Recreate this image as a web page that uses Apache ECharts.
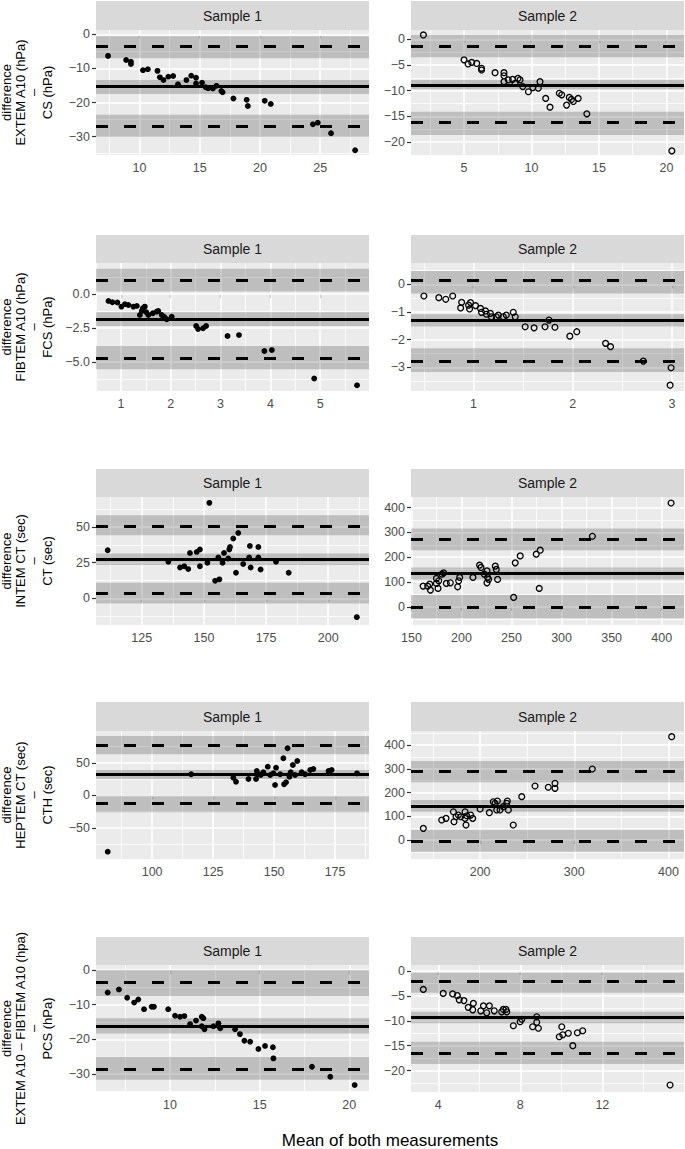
<!DOCTYPE html>
<html><head><meta charset="utf-8">
<script src="https://cdn.jsdelivr.net/npm/echarts@6/dist/echarts.min.js"></script>
<style>html,body{margin:0;padding:0;background:#fff}#c{width:685px;height:1149px}</style>
</head><body><div id="c"></div><script>
// ================= DATA =================
// Row 1: EXTEM A10 - CS
const extemS1Pts = [[7.4,-6.3],[8.9,-7.5],[9.3,-8.0],[9.3,-8.7],[10.3,-10.5],[10.7,-10.2],[11.5,-10.7],[11.7,-12.6],[12.0,-13.4],[12.4,-12.4],[12.8,-12.2],[13.2,-14.6],[13.9,-13.4],[14.3,-12.1],[14.7,-12.7],[14.7,-14.4],[15.2,-14.2],[15.5,-15.5],[15.7,-15.8],[16.1,-15.9],[16.4,-15.1],[16.8,-16.6],[16.9,-17.0],[17.8,-18.8],[18.9,-19.2],[19.0,-21.0],[20.4,-19.5],[20.9,-20.4],[24.4,-26.4],[24.8,-25.9],[25.9,-29.0],[27.9,-34.0]];
const extemS1Stats = [-15.35, -3.6, -27.1];           // bias, upper LoA, lower LoA
const extemS1Bands = [[-0.5,-7.0],[-13.4,-17.5],[-23.6,-30.2]];
const extemS1XTicks = [10,15,20,25];
const extemS1YTicks = [0,-10,-20,-30];

const extemS2Pts = [[1.99,0.84],[5.0,-4.0],[5.3,-4.8],[5.57,-4.5],[5.94,-4.7],[6.3,-5.65],[6.3,-5.97],[7.3,-6.5],[7.96,-6.5],[7.96,-7.1],[7.96,-8.24],[8.28,-7.9],[8.6,-7.8],[8.78,-8.56],[9.0,-7.6],[9.15,-7.9],[9.35,-9.2],[9.77,-10.2],[10.1,-9.4],[10.5,-9.5],[10.63,-8.25],[11.05,-11.5],[11.37,-13.2],[12.06,-10.5],[12.24,-10.8],[12.6,-12.8],[12.8,-11.3],[12.96,-11.7],[13.1,-12.1],[13.46,-11.5],[14.1,-14.5],[20.4,-21.7]];
const extemS2Stats = [-8.9, -1.44, -16.2];
const extemS2Bands = [[0.84,-3.5],[-7.9,-9.7],[-14.1,-18.6]];
const extemS2XTicks = [5,10,15,20];
const extemS2YTicks = [0,-5,-10,-15,-20];

// Row 2: FIBTEM A10 - FCS
const fibtemS1Pts = [[0.75,-0.5],[0.83,-0.6],[0.93,-0.62],[1.01,-0.92],[1.08,-0.74],[1.15,-0.8],[1.25,-0.92],[1.32,-0.87],[1.38,-1.54],[1.42,-1.24],[1.44,-1.04],[1.48,-0.92],[1.51,-1.34],[1.55,-1.54],[1.64,-1.41],[1.72,-1.29],[1.75,-1.24],[1.82,-1.54],[1.87,-1.68],[1.92,-1.85],[2.02,-1.66],[2.51,-2.35],[2.55,-2.57],[2.65,-2.52],[2.71,-2.35],[3.14,-3.09],[3.37,-3.02],[3.88,-4.2],[4.03,-4.13],[4.88,-6.23],[5.74,-6.73]];
const fibtemS1Stats = [-1.86, 1.06, -4.7];
const fibtemS1Bands = [[1.88,0.19],[-1.34,-2.35],[-3.81,-5.54]];
const fibtemS1XTicks = [1,2,3,4,5];
const fibtemS1YTicks = [0,-2.5,-5];

const fibtemS2Pts = [[0.5,-0.42],[0.65,-0.48],[0.72,-0.54],[0.79,-0.42],[0.88,-0.65],[0.87,-0.85],[0.95,-0.75],[0.96,-0.89],[0.97,-0.66],[1.02,-0.77],[1.07,-0.87],[1.08,-1.01],[1.12,-0.96],[1.13,-1.08],[1.17,-1.05],[1.18,-1.17],[1.23,-1.17],[1.25,-1.11],[1.3,-1.17],[1.33,-1.11],[1.4,-1.01],[1.42,-1.17],[1.52,-1.53],[1.61,-1.57],[1.72,-1.53],[1.76,-1.29],[1.82,-1.55],[1.97,-1.87],[2.04,-1.71],[2.33,-2.13],[2.38,-2.25],[2.71,-2.77],[2.99,-3.01],[2.98,-3.64]];
const fibtemS2Stats = [-1.31, 0.13, -2.76];
const fibtemS2Bands = [[0.48,-0.33],[-1.08,-1.53],[-2.31,-3.16]];
const fibtemS2XTicks = [1,2,3];
const fibtemS2YTicks = [0,-1,-2,-3];

// Row 3: INTEM CT - CT
const intemS1Pts = [[111.3,33.7],[135.7,25.6],[140.4,21.6],[142.1,22.5],[143.7,20.5],[144.4,31.8],[147.1,32.5],[148.4,34.2],[148.4,22.5],[151.4,24.9],[152.2,66.8],[154.5,12.3],[156.2,13.3],[155.8,28.6],[157.5,24.9],[158.1,31.8],[159.8,27.9],[160.2,34.2],[160.5,36],[161.8,41.9],[163.8,45.8],[162.9,17.9],[165.8,24],[168.5,36.7],[168.2,28.6],[168.8,21.6],[171.9,28.6],[171.9,36],[172.8,20.2],[179,25.6],[184.1,17.9],[211.5,-13.1]];
const intemS1Stats = [27.4, 50.5, 3.5];
const intemS1Bands = [[58.2,44.2],[31.4,23.3],[10.9,-3.5]];
const intemS1XTicks = [125,150,175,200];
const intemS1YTicks = [0,25,50];

const intemS2Pts = [[161.7,83.3],[166.3,83.3],[169,67.2],[168.3,91.3],[175,94.2],[176.6,74],[175,114.3],[177.3,104.6],[180.6,131.6],[182.2,136.8],[184.9,94.2],[188.9,96.6],[196.2,80.5],[197.2,104.6],[198.2,118.3],[211.5,118.3],[218.1,167.8],[219.5,158.6],[222.8,131.6],[225.5,144.9],[226.1,118.3],[225.5,96.6],[227.1,110.3],[233.8,163.8],[234.8,150.5],[236.1,110.3],[252.1,37.8],[253.7,177.1],[258.7,205.2],[274.7,212.1],[278.7,228.2],[277.7,74],[330.8,284.5],[409.4,418.5]];
const intemS2Stats = [134.4, 272.4, -2.4];
const intemS2Bands = [[315.5,228.2],[158.6,110.3],[47,-46.7]];
const intemS2XTicks = [150,200,250,300,350,400];
const intemS2YTicks = [0,100,200,300,400];

// Row 4: HEPTEM CT - CTH
const heptemS1Pts = [[81.8,-86.4],[116,32.6],[133.3,27.4],[134.4,21.2],[139.5,25.4],[142.6,25.4],[142.9,37.7],[143.6,32.6],[144.5,31.5],[145.6,35.7],[147.4,44.3],[148.4,31.5],[149.7,34.2],[150.4,16.2],[150.8,42.8],[152.5,32.6],[153.8,57.2],[154.1,17.2],[154.9,20.3],[155.5,72.6],[156.3,28.9],[156.8,35.7],[157.7,46.9],[158.6,31.5],[159.5,53.1],[161.3,35.7],[162.7,32.6],[164.8,39.2],[166.1,40.8],[172.3,37.7],[173.6,39.2],[184,34]];
const heptemS1Stats = [32.6, 77.7, -12];
const heptemS1Bands = [[91.5,63.4],[39.2,25.4],[-0.3,-25.8]];
const heptemS1XTicks = [100,125,150,175];
const heptemS1YTicks = [-50,0,50];

const heptemS2Pts = [[139.7,49],[159.2,84.2],[163.8,91.2],[171.6,119],[172.3,77],[174.4,98],[176.9,105],[179.4,98],[184,119],[185,63],[184,91],[185.8,102],[190,105],[192.1,91],[200,130.5],[209.8,115],[214,161],[215.8,154.5],[217.6,126.3],[218.3,164.2],[221.1,126.3],[224.6,140.4],[228.2,154.5],[228.9,164.2],[230,126.3],[235.2,63.2],[244.2,182.5],[258.3,227.4],[272.4,222],[279.5,238.7],[279.5,217.7],[319.1,299],[403.4,435]];
const heptemS2Stats = [143.2, 290.5, -4.2];
const heptemS2Bands = [[332.6,242.9],[168.4,119],[42,-49]];
const heptemS2XTicks = [200,300,400];
const heptemS2YTicks = [0,100,200,300,400];

// Row 5: EXTEM A10 - FIBTEM A10 - PCS
const pcsS1Pts = [[6.52,-6.5],[7.15,-5.6],[7.61,-8.0],[8.0,-9.4],[8.23,-8.5],[8.55,-11.3],[8.98,-10.6],[9.1,-10.6],[9.9,-11.3],[10.28,-13.2],[10.56,-13.5],[10.8,-13.3],[11.12,-15.6],[11.45,-14.6],[11.77,-13.5],[11.86,-13.9],[11.77,-16.2],[11.92,-17.1],[12.42,-16.2],[12.7,-15.4],[12.8,-16.8],[13.63,-17.1],[13.9,-18.5],[14.15,-20.4],[14.47,-20.7],[14.93,-22.8],[15.3,-21.9],[15.74,-22.3],[15.77,-25.5],[17.92,-27.9],[18.94,-30.8],[20.3,-33.2]];
const pcsS1Stats = [-16.2, -3.65, -28.7];
const pcsS1Bands = [[0,-7.5],[-13.9,-18.3],[-25,-31.7]];
const pcsS1XTicks = [10,15,20];
const pcsS1YTicks = [0,-10,-20,-30];

const pcsS2Pts = [[3.27,-3.7],[4.24,-4.5],[4.7,-4.6],[4.93,-4.95],[5.02,-5.8],[5.25,-5.95],[5.46,-7.3],[5.68,-7.8],[5.71,-6.5],[6.07,-8.0],[6.2,-7.0],[6.36,-8.4],[6.49,-7.0],[6.73,-8.0],[7.09,-8.2],[7.17,-7.7],[7.34,-8.2],[7.3,-7.7],[7.66,-11.0],[7.99,-10.2],[8.07,-9.7],[8.6,-11.2],[8.8,-9.2],[8.8,-10.3],[8.88,-11.5],[9.9,-13.2],[10.07,-12.8],[10.02,-11.2],[10.34,-12.5],[10.56,-15],[10.78,-12.4],[11.04,-12.0],[15.3,-22.9]];
const pcsS2Stats = [-9.3, -2.0, -16.5];
const pcsS2Bands = [[-0.34,-4.35],[-8.2,-10.5],[-14.2,-18.7]];
const pcsS2XTicks = [4,8,12];
const pcsS2YTicks = [0,-5,-10,-15,-20];

const stripLabels = ['Sample 1', 'Sample 2'];
const yTitles = [
  'difference\nEXTEM A10 (hPa)\n\u2013\nCS (hPa)',
  'difference\nFIBTEM A10 (hPa)\n\u2013\nFCS (hPa)',
  'difference\nINTEM CT (sec)\n\u2013\nCT (sec)',
  'difference\nHEPTEM CT (sec)\n\u2013\nCTH (sec)',
  'difference\nEXTEM A10 \u2013 FIBTEM A10 (hpa)\n\u2013\nPCS (hPa)'
];
const xTitle = 'Mean of both measurements';

// ================= LAYOUT =================
const FONT = "'Liberation Sans', Arial, Helvetica, sans-serif";
const cols = [{left: 96, width: 273}, {left: 411, width: 273}];
const rows = [
  {strip: 1, top: 30, bottom: 155},
  {strip: 235, top: 263, bottom: 391},
  {strip: 469, top: 497, bottom: 625},
  {strip: 702, top: 731, bottom: 859},
  {strip: 937, top: 965, bottom: 1092}
];
const panels = [
  {r:0,c:0,pts:extemS1Pts,stats:extemS1Stats,bands:extemS1Bands,xt:extemS1XTicks,yt:extemS1YTicks,x:[6.4,29.05],y:[-35.4,1.3],dec:0,open:false},
  {r:0,c:1,pts:extemS2Pts,stats:extemS2Stats,bands:extemS2Bands,xt:extemS2XTicks,yt:extemS2YTicks,x:[1.07,21.3],y:[-22.5,1.8],dec:0,open:true},
  {r:1,c:0,pts:fibtemS1Pts,stats:fibtemS1Stats,bands:fibtemS1Bands,xt:fibtemS1XTicks,yt:fibtemS1YTicks,x:[0.5,5.98],y:[-7.15,2.3],dec:1,open:false},
  {r:1,c:1,pts:fibtemS2Pts,stats:fibtemS2Stats,bands:fibtemS2Bands,xt:fibtemS2XTicks,yt:fibtemS2YTicks,x:[0.37,3.12],y:[-3.85,0.77],dec:0,open:true},
  {r:2,c:0,pts:intemS1Pts,stats:intemS1Stats,bands:intemS1Bands,xt:intemS1XTicks,yt:intemS1YTicks,x:[106.6,216.4],y:[-18.6,70.9],dec:0,open:false},
  {r:2,c:1,pts:intemS2Pts,stats:intemS2Stats,bands:intemS2Bands,xt:intemS2XTicks,yt:intemS2YTicks,x:[149.6,422.3],y:[-73.6,442.7],dec:0,open:true},
  {r:3,c:0,pts:heptemS1Pts,stats:heptemS1Stats,bands:heptemS1Bands,xt:heptemS1XTicks,yt:heptemS1YTicks,x:[77,188.9],y:[-97.7,99.2],dec:0,open:false},
  {r:3,c:1,pts:heptemS2Pts,stats:heptemS2Stats,bands:heptemS2Bands,xt:heptemS2XTicks,yt:heptemS2YTicks,x:[126.6,416.5],y:[-80,459],dec:0,open:true},
  {r:4,c:0,pts:pcsS1Pts,stats:pcsS1Stats,bands:pcsS1Bands,xt:pcsS1XTicks,yt:pcsS1YTicks,x:[5.87,21.1],y:[-35.2,1.44],dec:0,open:false},
  {r:4,c:1,pts:pcsS2Pts,stats:pcsS2Stats,bands:pcsS2Bands,xt:pcsS2XTicks,yt:pcsS2YTicks,x:[2.67,15.98],y:[-24.3,1.2],dec:0,open:true}
];

function fmt(dec) {
  return v => (v < 0 ? '\u2212' : '') + Math.abs(v).toFixed(dec);
}
// major + minor gridline values from the tick list
function gridVals(ticks, lo, hi) {
  const t = ticks.slice().sort((a,b)=>a-b);
  const half = (t[1]-t[0]) / 2;
  const out = [];
  const k0 = Math.ceil((lo - t[0]) / half - 1e-9), k1 = Math.floor((hi - t[0]) / half + 1e-9);
  for (let k = k0; k <= k1; k++) out.push({v: t[0] + k*half, major: k % 2 === 0});
  return out;
}

const grids = [], xAxes = [], yAxes = [], series = [], graphics = [];
panels.forEach((p, i) => {
  const col = cols[p.c], row = rows[p.r];
  grids.push({left: col.left, top: row.top, width: col.width, height: row.bottom - row.top,
    show: true, backgroundColor: '#EBEBEB', borderWidth: 0, containLabel: false});
  const axCommon = {
    gridIndex: i, type: 'value', axisLine: {show: false},
    splitLine: {show: false}, minorSplitLine: {show: false}
  };
  xAxes.push(Object.assign({}, axCommon, {min: p.x[0], max: p.x[1],
    axisTick: {show: true, length: 4, lineStyle: {color: '#333', width: 1.2}, customValues: p.xt},
    axisLabel: {customValues: p.xt, color: '#4D4D4D', fontSize: 12.5, fontFamily: FONT, margin: 6, formatter: fmt(0)}}));
  yAxes.push(Object.assign({}, axCommon, {min: p.y[0], max: p.y[1],
    axisTick: {show: true, length: 4, lineStyle: {color: '#333', width: 1.2}, customValues: p.yt},
    axisLabel: {customValues: p.yt, color: '#4D4D4D', fontSize: 12.5, fontFamily: FONT, margin: 6, formatter: fmt(p.dec)}}));

  // white panel grid
  const gl = [];
  gridVals(p.xt, p.x[0], p.x[1]).forEach(g => gl.push({coords: [[g.v, p.y[0]], [g.v, p.y[1]]], lineStyle: {width: g.major ? 1.6 : 0.8}}));
  gridVals(p.yt, p.y[0], p.y[1]).forEach(g => gl.push({coords: [[p.x[0], g.v], [p.x[1], g.v]], lineStyle: {width: g.major ? 1.6 : 0.8}}));
  series.push({type: 'lines', coordinateSystem: 'cartesian2d', xAxisIndex: i, yAxisIndex: i,
    z: 0.5, silent: true, animation: false, symbol: 'none',
    lineStyle: {color: '#FFFFFF', opacity: 1}, data: gl});

  // points + bands + bias / LoA lines
  series.push({
    type: 'scatter', xAxisIndex: i, yAxisIndex: i, z: 3, silent: true, animation: false,
    data: p.pts,
    symbol: 'circle', symbolSize: 5.8,
    itemStyle: p.open ? {color: 'rgba(0,0,0,0)', borderColor: '#000', borderWidth: 1.3, opacity: 1}
                      : {color: '#000', borderWidth: 0, opacity: 1},
    markArea: {silent: true, animation: false, itemStyle: {color: 'rgba(0,0,0,0.19)', borderWidth: 0},
      data: p.bands.map(b => [{yAxis: b[0]}, {yAxis: b[1]}])},
    markLine: {silent: true, animation: false, symbol: 'none', label: {show: false},
      lineStyle: {color: '#000', width: 3, cap: 'butt'},
      data: [
        {yAxis: p.stats[0], lineStyle: {type: 'solid', color: '#000', width: 3}},
        {yAxis: p.stats[1], lineStyle: {type: [12, 16], color: '#000', width: 3}},
        {yAxis: p.stats[2], lineStyle: {type: [12, 16], color: '#000', width: 3}}
      ]}
  });

  // facet strip
  graphics.push({type: 'rect', silent: true, z: 10,
    shape: {x: col.left, y: row.strip, width: col.width, height: row.top - row.strip},
    style: {fill: '#D9D9D9'}});
  graphics.push({type: 'text', silent: true, z: 11,
    x: col.left + col.width / 2, y: (row.strip + row.top) / 2,
    style: {text: stripLabels[p.c], x: 0, y: 0, align: 'center', verticalAlign: 'middle',
      textAlign: 'center', textVerticalAlign: 'middle', fill: '#1A1A1A', font: '14px ' + FONT}});
});

// y titles (one per row)
rows.forEach((row, r) => {
  graphics.push({type: 'text', silent: true, z: 11,
    x: 27, y: (row.top + row.bottom) / 2, rotation: Math.PI / 2,
    style: {text: yTitles[r], x: 0, y: 0, align: 'center', verticalAlign: 'middle',
      textAlign: 'center', textVerticalAlign: 'middle', fill: '#000', font: '13px ' + FONT, lineHeight: 13.7}});
});
// shared x title
graphics.push({type: 'text', silent: true, z: 11, x: 390, y: 1140,
  style: {text: xTitle, x: 0, y: 0, align: 'center', verticalAlign: 'middle',
    textAlign: 'center', textVerticalAlign: 'middle', fill: '#000', font: '17px ' + FONT}});

const chart = echarts.init(document.getElementById('c'), null, {renderer: 'svg', width: 685, height: 1149});
chart.setOption({
  animation: false,
  backgroundColor: '#FFFFFF',
  grid: grids, xAxis: xAxes, yAxis: yAxes, series: series,
  graphic: {elements: graphics}
});
</script></body></html>
